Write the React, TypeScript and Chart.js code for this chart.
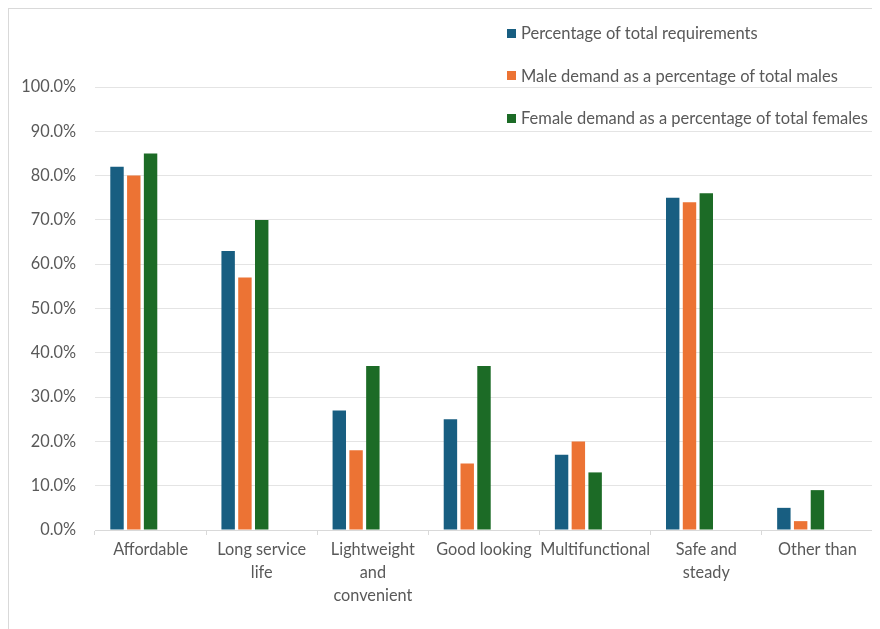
import React, { useEffect, useRef } from 'react';
import { Chart, registerables } from 'chart.js';

Chart.register(...registerables);

const categories: (string | string[])[] = [
  'Affordable',
  ['Long service', 'life'],
  ['Lightweight', 'and', 'convenient'],
  'Good looking',
  'Multifunctional',
  ['Safe and', 'steady'],
  'Other than',
];

const seriesNames = [
  'Percentage of total requirements',
  'Male demand as a percentage of total males',
  'Female demand as a percentage of total females',
];

const totalPct = [82, 63, 27, 25, 17, 75, 5];
const malePct = [80, 57, 18, 15, 20, 74, 2];
const femalePct = [85, 70, 37, 37, 13, 76, 9];

const seriesColors = ['#185E81', '#EC7334', '#1C6B26'];

const yTicks = [0, 10, 20, 30, 40, 50, 60, 70, 80, 90, 100];

const FONT = 'Lato, "Open Sans", sans-serif';
const TEXT = '#595959';

export default function App() {
  const canvasRef = useRef<HTMLCanvasElement | null>(null);

  useEffect(() => {
    document.body.style.overflow = 'hidden';
    const ctx = canvasRef.current!;
    const values = [totalPct, malePct, femalePct];
    const datasets: any[] = values.map((d, i) => ({
      label: seriesNames[i],
      data: d,
      backgroundColor: seriesColors[i],
      borderWidth: 0,
      barPercentage: 0.8,
      categoryPercentage: 0.755,
    }));
    // two empty placeholder series occupy slots like the original grouping
    for (let k = 0; k < 2; k++) {
      datasets.push({
        label: '',
        data: categories.map(() => null),
        backgroundColor: 'transparent',
        barPercentage: 0.8,
        categoryPercentage: 0.755,
      });
    }
    const chart = new Chart(ctx, {
      type: 'bar',
      data: { labels: categories as any, datasets },
      options: {
        animation: false,
        responsive: false,
        maintainAspectRatio: false,
        layout: { padding: { top: 78, right: 7, left: 0, bottom: 0 } },
        plugins: {
          legend: { display: false },
          tooltip: { enabled: false },
        },
        scales: {
          x: {
            grid: {
              display: true,
              drawOnChartArea: false,
              drawTicks: true,
              tickLength: 5,
              color: '#d9d9d9',
              offset: true,
            },
            border: { display: true, color: '#d9d9d9', width: 1 },
            ticks: {
              color: TEXT,
              font: { family: FONT, size: 16.3, lineHeight: 1.42 },
              maxRotation: 0,
              minRotation: 0,
              autoSkip: false,
              padding: 3,
            },
            afterFit: (s: any) => {
              s.height = 99;
            },
          },
          y: {
            min: 0,
            max: 100,
            afterBuildTicks: (s: any) => {
              s.ticks = yTicks.map((v) => ({ value: v }));
            },
            grid: { color: '#e4e4e4', drawTicks: false, lineWidth: 1 },
            border: { display: false },
            ticks: {
              color: TEXT,
              font: { family: FONT, size: 16.3 },
              padding: 19,
              callback: (v: any) => Number(v).toFixed(1) + '%',
            },
            afterFit: (s: any) => {
              s.width = 86;
            },
          },
        },
      },
    });
    return () => chart.destroy();
  }, []);

  return (
    <div
      style={{
        position: 'relative',
        width: 871,
        height: 620,
        borderTop: '1px solid #d9d9d9',
        borderLeft: '1px solid #d9d9d9',
        background: '#fff',
      }}
    >
      <canvas ref={canvasRef} width={871} height={620} style={{ display: 'block' }} />
      <div style={{ position: 'absolute', left: 498, top: 0, fontFamily: FONT, fontSize: 16.5, color: TEXT }}>
        {seriesNames.map((n, i) => (
          <div
            key={n}
            style={{
              position: 'absolute',
              left: 0,
              top: 14 + i * 42.5,
              height: 20,
              display: 'flex',
              alignItems: 'center',
              whiteSpace: 'nowrap',
            }}
          >
            <span
              style={{
                display: 'inline-block',
                width: 9,
                height: 9,
                background: seriesColors[i],
                marginRight: 5,
              }}
            />
            <span>{n}</span>
          </div>
        ))}
      </div>
    </div>
  );
}
